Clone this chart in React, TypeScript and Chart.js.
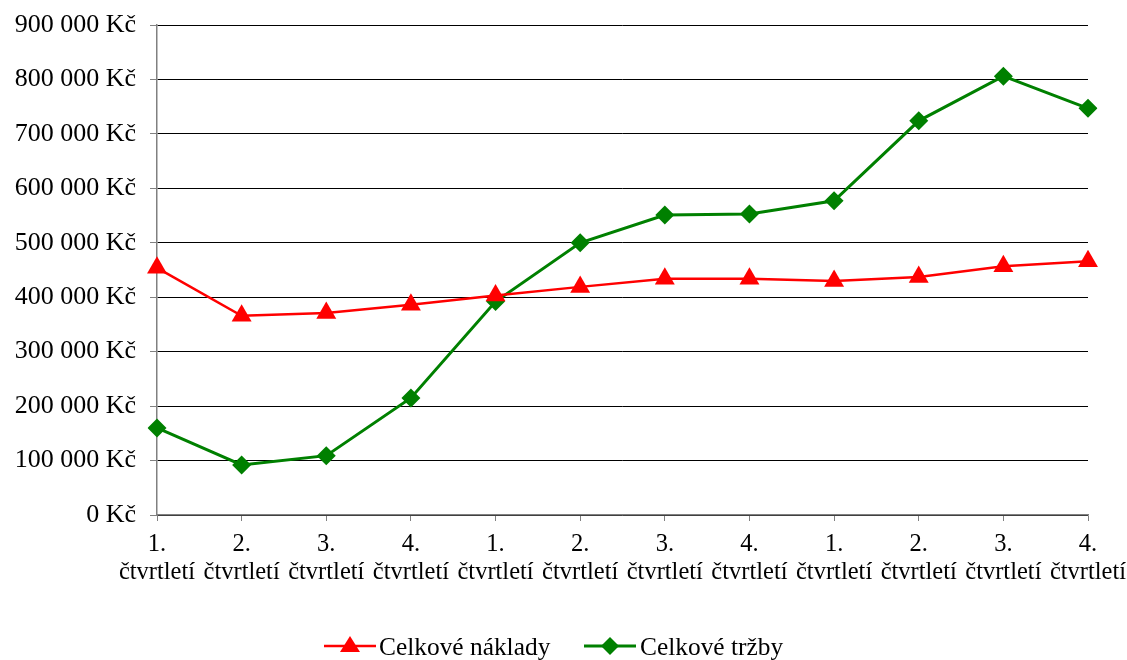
import React, { useEffect, useRef } from "react";
import { Chart, registerables } from "chart.js";

Chart.register(...registerables);

const categories: string[][] = [
  ["1.", "čtvrtletí"], ["2.", "čtvrtletí"], ["3.", "čtvrtletí"], ["4.", "čtvrtletí"],
  ["1.", "čtvrtletí"], ["2.", "čtvrtletí"], ["3.", "čtvrtletí"], ["4.", "čtvrtletí"],
  ["1.", "čtvrtletí"], ["2.", "čtvrtletí"], ["3.", "čtvrtletí"], ["4.", "čtvrtletí"],
];

const nakladyLabel = "Celkové náklady";
const trzbyLabel = "Celkové tržby";

const naklady: number[] = [454000, 366000, 371000, 386000, 403000, 419000, 434000, 434000, 430000, 437000, 457000, 466000];
const trzby: number[] = [160000, 92000, 109000, 215000, 392000, 500000, 551000, 553000, 577000, 724000, 806000, 747000];

const yTickLabels: string[] = [
  "0 Kč", "100 000 Kč", "200 000 Kč", "300 000 Kč", "400 000 Kč",
  "500 000 Kč", "600 000 Kč", "700 000 Kč", "800 000 Kč", "900 000 Kč",
];

const FONT = "'Liberation Serif', 'Times New Roman', serif";

export default function App() {
  const ref = useRef<HTMLCanvasElement | null>(null);

  useEffect(() => {
    if (!ref.current) return;
    const chart = new Chart(ref.current, {
      type: "line",
      data: {
        labels: categories,
        datasets: [
          {
            label: nakladyLabel,
            data: naklady,
            borderColor: "#FF0000",
            backgroundColor: "#FF0000",
            borderWidth: 2.5,
            pointStyle: "triangle",
            pointRadius: 11.5,
            pointBorderWidth: 0,
            pointBackgroundColor: "#FF0000",
            tension: 0,
          },
          {
            label: trzbyLabel,
            data: trzby,
            borderColor: "#008000",
            backgroundColor: "#008000",
            borderWidth: 3,
            pointStyle: "rectRot",
            pointRadius: 9.5,
            pointBorderWidth: 0,
            pointBackgroundColor: "#008000",
            tension: 0,
          },
        ],
      },
      options: {
        animation: false,
        responsive: false,
        maintainAspectRatio: false,
        layout: { padding: { top: 25, right: 39, left: 0, bottom: 0 } },
        plugins: {
          legend: { display: false },
          tooltip: { enabled: false },
        },
        scales: {
          x: {
            offset: false,
            grid: {
              drawOnChartArea: false,
              drawTicks: true,
              tickLength: 6,
              tickColor: "#808080",
            },
            border: { color: "#808080", width: 1.5 },
            ticks: {
              color: "#000",
              font: { family: FONT, size: 24.5, lineHeight: 1.15 },
              padding: 9,
              maxRotation: 0,
              autoSkip: false,
            },
            afterFit: (s: any) => {
              s.height = 660 - 515;
              s.paddingLeft = 0;
              s.paddingRight = 0;
            },
          },
          y: {
            min: 0,
            max: 900000,
            ticks: {
              stepSize: 100000,
              color: "#000",
              font: { family: FONT, size: 26 },
              padding: 14,
              callback: (_v: any, i: number) => yTickLabels[i],
            },
            grid: {
              color: "#000",
              tickColor: "#808080",
              tickLength: 7,
              lineWidth: 1,
            },
            border: { color: "#808080", width: 1.5 },
            afterFit: (s: any) => {
              s.width = 157;
              s.paddingTop = 0;
              s.paddingBottom = 0;
            },
          },
        },
      },
    });
    return () => chart.destroy();
  }, []);

  const textStyle: React.CSSProperties = {
    position: "absolute",
    fontFamily: FONT,
    fontSize: 25.4,
    lineHeight: "30px",
    color: "#000",
    whiteSpace: "nowrap",
    top: 0,
  };

  return (
    <div style={{ position: "fixed", left: 0, top: 0, width: 1127, height: 660, background: "#fff" }}>
      <canvas ref={ref} width={1127} height={660} style={{ display: "block", width: 1127, height: 660 }} />
      <div style={{ position: "absolute", left: 0, top: 631, width: 1127, height: 30 }}>
        <svg width={52} height={30} style={{ position: "absolute", left: 324, top: 0 }}>
          <line x1={0} y1={15} x2={52} y2={15} stroke="#FF0000" strokeWidth={2.5} />
          <polygon points="26,5 36,21 16,21" fill="#FF0000" />
        </svg>
        <span style={{ ...textStyle, left: 379 }}>{nakladyLabel}</span>
        <svg width={52} height={30} style={{ position: "absolute", left: 584, top: 0 }}>
          <line x1={0} y1={15} x2={52} y2={15} stroke="#008000" strokeWidth={3} />
          <polygon points="26,6 35,15 26,24 17,15" fill="#008000" />
        </svg>
        <span style={{ ...textStyle, left: 640 }}>{trzbyLabel}</span>
      </div>
    </div>
  );
}
